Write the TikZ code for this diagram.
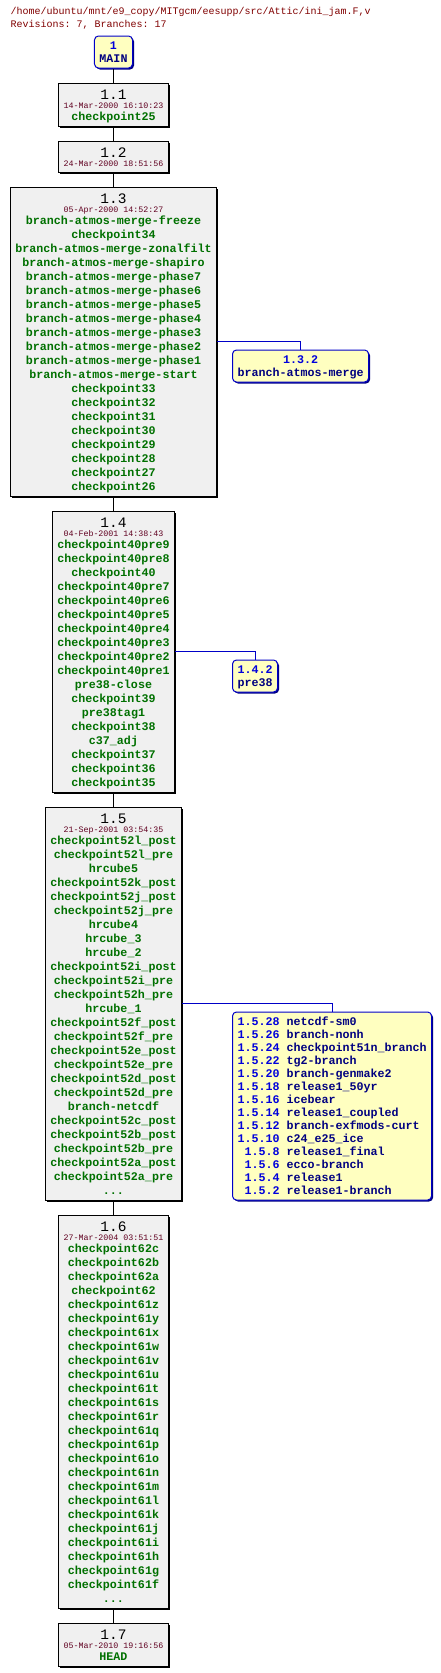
\documentclass[tikz,border=0pt]{standalone}
\usepackage{fontspec}
\setmonofont{Liberation Mono}
\definecolor{tagcol}{RGB}{0,112,0}
\definecolor{datecol}{RGB}{96,0,32}
\definecolor{titlecol}{RGB}{128,0,0}
\definecolor{brnum}{RGB}{0,0,220}
\definecolor{brname}{RGB}{0,0,128}
\definecolor{brfill}{RGB}{255,255,192}
\definecolor{brline}{RGB}{0,0,200}
\definecolor{revfill}{RGB}{240,240,240}
\usetikzlibrary{positioning,shadows,calc}
\newcommand\revhead[2]{\rule{0pt}{16pt}{\fontsize{14.5}{14}\selectfont\mdseries\color{black}#1}\\[-5pt]{\fontsize{8.33}{10}\selectfont\mdseries\color{datecol}#2}}
\newcommand\revend{\rule[-6pt]{0pt}{6pt}}
\newcommand\bhead{\rule{0pt}{13.5pt}}
\newcommand\btail{\rule[-5.5pt]{0pt}{5.5pt}}
\newcommand\bnum[1]{{\color{brnum}#1}}

\begin{document}
\begin{tikzpicture}[x=1pt,y=-1pt,node distance=14pt,
    rev/.style={draw,line width=1pt,fill=revfill,text=tagcol,inner xsep=5pt,inner ysep=0pt,align=center,
      font=\ttfamily\bfseries\fontsize{11.67}{14}\selectfont,
      drop shadow={shadow xshift=1.5pt,shadow yshift=-1.5pt,opacity=1,fill=black}},
    branch/.style={draw=brline,line width=1pt,fill=brfill,text=brname,rounded corners=4pt,inner xsep=5pt,inner ysep=0pt,
      font=\ttfamily\bfseries\fontsize{11.67}{13}\selectfont,
      drop shadow={shadow xshift=1.5pt,shadow yshift=-1.5pt,opacity=1,fill=brname}},
    trunk/.style={line width=1pt},
    twig/.style={draw=brline,line width=1pt}]
  \useasboundingbox (0,0) rectangle (440,1673);
  \coordinate (bx) at (232,0);
  \node[anchor=north west,inner sep=0pt,align=left,text=titlecol,font=\ttfamily\fontsize{10}{13}\selectfont] (title) at (10.5,7.5)
    {/home/ubuntu/mnt/e9\_copy/MITgcm/eesupp/src/Attic/ini\_jam.F,v\\Revisions: 7, Branches: 17};
  \node[branch,align=center] (main) at (113.5,52) {\bhead\bnum{1}\\MAIN\btail};
  \node[rev,below=of main] (r11) {\revhead{1.1}{14-Mar-2000 16:10:23}\\[-2pt]checkpoint25\revend};
  \node[rev,below=of r11] (r12) {\revhead{1.2}{24-Mar-2000 18:51:56}\revend};
  \node[rev,below=of r12] (r13) {\revhead{1.3}{05-Apr-2000 14:52:27}\\[-2pt]
    branch-atmos-merge-freeze\\
    checkpoint34\\
    branch-atmos-merge-zonalfilt\\
    branch-atmos-merge-shapiro\\
    branch-atmos-merge-phase7\\
    branch-atmos-merge-phase6\\
    branch-atmos-merge-phase5\\
    branch-atmos-merge-phase4\\
    branch-atmos-merge-phase3\\
    branch-atmos-merge-phase2\\
    branch-atmos-merge-phase1\\
    branch-atmos-merge-start\\
    checkpoint33\\
    checkpoint32\\
    checkpoint31\\
    checkpoint30\\
    checkpoint29\\
    checkpoint28\\
    checkpoint27\\
    checkpoint26\revend};
  \node[rev,below=of r13] (r14) {\revhead{1.4}{04-Feb-2001 14:38:43}\\[-2pt]
    checkpoint40pre9\\
    checkpoint40pre8\\
    checkpoint40\\
    checkpoint40pre7\\
    checkpoint40pre6\\
    checkpoint40pre5\\
    checkpoint40pre4\\
    checkpoint40pre3\\
    checkpoint40pre2\\
    checkpoint40pre1\\
    pre38-close\\
    checkpoint39\\
    pre38tag1\\
    checkpoint38\\
    c37\_adj\\
    checkpoint37\\
    checkpoint36\\
    checkpoint35\revend};
  \node[rev,below=of r14] (r15) {\revhead{1.5}{21-Sep-2001 03:54:35}\\[-2pt]
    checkpoint52l\_post\\
    checkpoint52l\_pre\\
    hrcube5\\
    checkpoint52k\_post\\
    checkpoint52j\_post\\
    checkpoint52j\_pre\\
    hrcube4\\
    hrcube\_3\\
    hrcube\_2\\
    checkpoint52i\_post\\
    checkpoint52i\_pre\\
    checkpoint52h\_pre\\
    hrcube\_1\\
    checkpoint52f\_post\\
    checkpoint52f\_pre\\
    checkpoint52e\_post\\
    checkpoint52e\_pre\\
    checkpoint52d\_post\\
    checkpoint52d\_pre\\
    branch-netcdf\\
    checkpoint52c\_post\\
    checkpoint52b\_post\\
    checkpoint52b\_pre\\
    checkpoint52a\_post\\
    checkpoint52a\_pre\\
    ...\revend};
  \node[rev,below=of r15] (r16) {\revhead{1.6}{27-Mar-2004 03:51:51}\\[-2pt]
    checkpoint62c\\
    checkpoint62b\\
    checkpoint62a\\
    checkpoint62\\
    checkpoint61z\\
    checkpoint61y\\
    checkpoint61x\\
    checkpoint61w\\
    checkpoint61v\\
    checkpoint61u\\
    checkpoint61t\\
    checkpoint61s\\
    checkpoint61r\\
    checkpoint61q\\
    checkpoint61p\\
    checkpoint61o\\
    checkpoint61n\\
    checkpoint61m\\
    checkpoint61l\\
    checkpoint61k\\
    checkpoint61j\\
    checkpoint61i\\
    checkpoint61h\\
    checkpoint61g\\
    checkpoint61f\\
    ...\revend};
  \node[rev,below=of r16] (r17) {\revhead{1.7}{05-Mar-2010 19:16:56}\\[-2pt]HEAD\revend};

  \node[branch,align=center,anchor=north west] (b132) at ($(r13.east -| bx)+(0,8)$)
    {\bhead\bnum{1.3.2}\\branch-atmos-merge\btail};
  \node[branch,align=center,anchor=north west] (b142) at ($(r14.east -| bx)+(0,8)$)
    {\bhead\bnum{1.4.2}\\pre38\btail};
  \node[branch,align=left,anchor=north west] (b15) at ($(r15.east -| bx)+(0,8)$)
    {\bhead\bnum{1.5.28} netcdf-sm0\\
    \bnum{1.5.26} branch-nonh\\
    \bnum{1.5.24} checkpoint51n\_branch\\
    \bnum{1.5.22} tg2-branch\\
    \bnum{1.5.20} branch-genmake2\\
    \bnum{1.5.18} release1\_50yr\\
    \bnum{1.5.16} icebear\\
    \bnum{1.5.14} release1\_coupled\\
    \bnum{1.5.12} branch-exfmods-curt\\
    \bnum{1.5.10} c24\_e25\_ice\\
    \bnum{\hphantom{1}1.5.8} release1\_final\\
    \bnum{\hphantom{1}1.5.6} ecco-branch\\
    \bnum{\hphantom{1}1.5.4} release1\\
    \bnum{\hphantom{1}1.5.2} release1-branch\btail};

  \draw[trunk] (main) -- (r11);
  \draw[trunk] (r11) -- (r12);
  \draw[trunk] (r12) -- (r13);
  \draw[trunk] (r13) -- (r14);
  \draw[trunk] (r14) -- (r15);
  \draw[trunk] (r15) -- (r16);
  \draw[trunk] (r16) -- (r17);
  \draw[twig] (r13.east) -| (b132.north);
  \draw[twig] (r14.east) -| (b142.north);
  \draw[twig] (r15.east) -| (b15.north);
\end{tikzpicture}
\end{document}
